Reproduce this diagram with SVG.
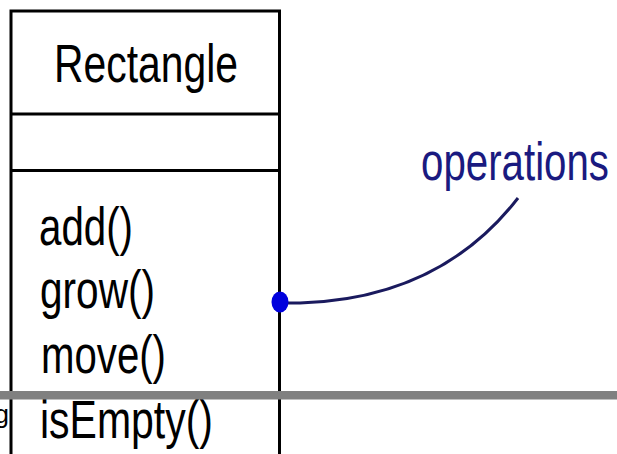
<svg xmlns="http://www.w3.org/2000/svg" width="617" height="454" viewBox="0 0 617 454">
<style>
.box{fill:#fff;stroke:#000;stroke-width:3}
.div{stroke:#000;stroke-width:3}
.t{font-family:"Liberation Sans",Arial,sans-serif;font-size:53px;fill:#000}
.op{font-family:"Liberation Sans",Arial,sans-serif;font-size:53px;fill:#1a1a80}
.conn{fill:none;stroke:#1a1a5e;stroke-width:3}
</style>
<rect x="0" y="0" width="617" height="454" fill="#fff"/>
<g id="rectangle-class">
<rect class="box" x="11" y="11" width="268.5" height="460"/>
<line class="div" x1="11" y1="114" x2="279.5" y2="114"/>
<line class="div" x1="11" y1="170.5" x2="279.5" y2="170.5"/>
<text class="t" x="54" y="82" font-size="54" textLength="184" lengthAdjust="spacingAndGlyphs">Rectangle</text>
<text class="t" x="39" y="245" textLength="94" lengthAdjust="spacingAndGlyphs">add()</text>
<text class="t" x="40" y="308" textLength="115" lengthAdjust="spacingAndGlyphs">grow()</text>
<text class="t" x="41" y="373" textLength="125" lengthAdjust="spacingAndGlyphs">move()</text>
<text class="t" x="40" y="438" textLength="173" lengthAdjust="spacingAndGlyphs">isEmpty()</text>
</g>
<g id="note">
<text class="op" x="421" y="180" textLength="188" lengthAdjust="spacingAndGlyphs">operations</text>
</g>
<g id="connectors">
<path class="conn" d="M280 303 L300 303 C400 300 470 260 518 198"/>
<ellipse cx="280" cy="302" rx="8.5" ry="10.5" fill="#0000dd"/>
</g>
<rect x="0" y="391" width="617" height="8.5" fill="#808080"/>
<text x="9" y="423" text-anchor="end" font-family="Liberation Sans,Arial,sans-serif" font-size="26" fill="#000">g</text>
</svg>
